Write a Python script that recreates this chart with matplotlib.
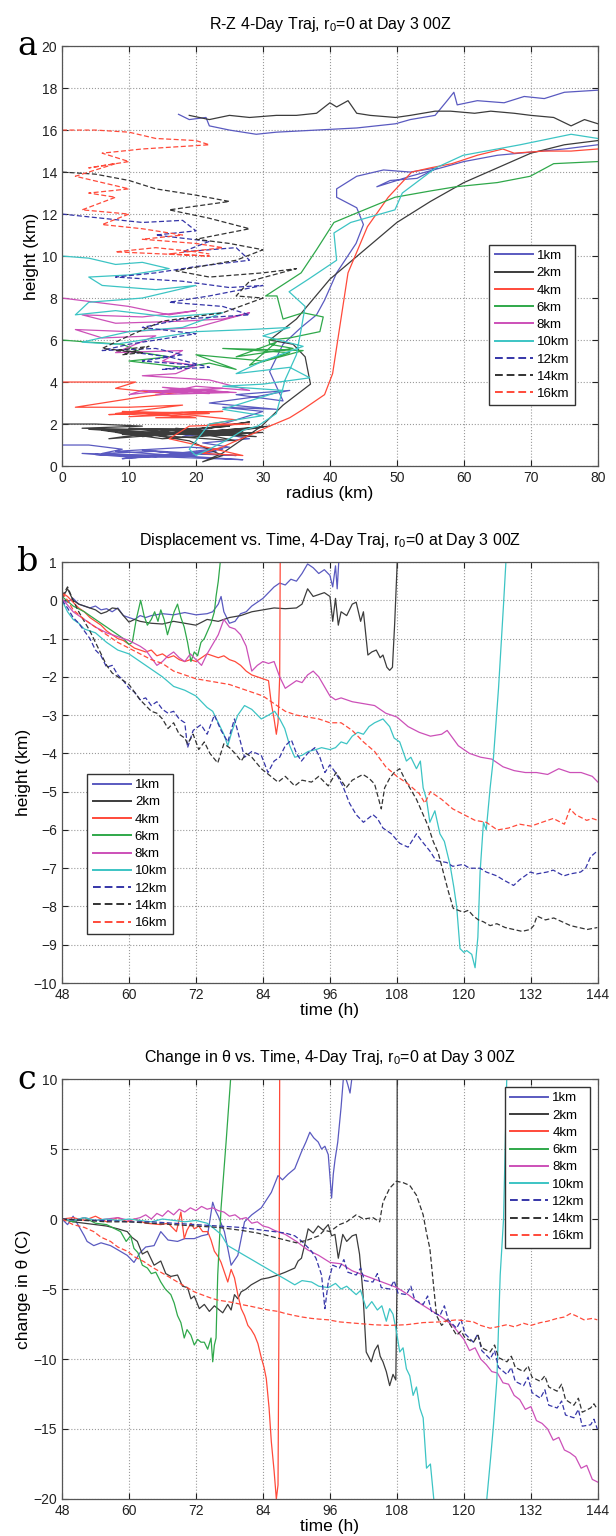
import matplotlib
matplotlib.use("Agg")
import matplotlib.pyplot as plt

plt.rcParams['font.family'] = ['Liberation Sans', 'DejaVu Sans']
plt.rcParams['mathtext.fontset'] = 'custom'
plt.rcParams['mathtext.rm'] = 'Liberation Sans'

labels = ["1km", "2km", "4km", "6km", "8km", "10km", "12km", "14km", "16km"]
colors = ["#5a5ac0", "#3c3c3c", "#ff4a3a", "#2fa84a", "#cc50b8", "#3cc4c4", "#3535a8", "#333333", "#ff4a3a"]
styles = ["-", "-", "-", "-", "-", "-", "--", "--", "--"]

# ---- panel a : radius / height trajectories ----
a_1km_r = [0, 4, 9, 6, 14, 20, 11, 3, 16, 24, 19, 8, 22, 27, 5, 14, 23, 9, 18, 26, 12, 17, 25, 21, 28, 23, 18, 26, 30,
           24, 32, 22, 29, 34, 26, 33,
           31, 33, 35.7, 38, 39.2, 41, 43.9, 45, 44, 41, 41, 44, 48, 52, 56, 53, 49, 47, 52, 60, 65, 70, 75, 80, 88,
           80, 75, 72, 69, 66, 62, 59, 58.5, 57.5, 55.7, 52, 49.8, 44, 38, 32, 29, 25, 22, 21.5, 19, 17.4]
a_1km_z = [1.0, 1.0, 0.8, 0.6, 0.7, 0.5, 0.4, 0.6, 0.5, 0.8, 0.9, 0.7, 0.4, 0.3, 0.55, 0.45, 0.7, 0.35, 0.6, 0.5, 0.75,
           0.6, 0.9, 1.1, 1.3, 1.6, 1.4, 2.2, 2.6,
           2.8, 2.7, 3.0, 3.3, 3.6, 3.4, 3.1, 4.5, 5.8, 6.6, 7.2, 7.9, 9.2, 10.6, 11.5, 12.3, 12.8, 13.2, 13.8, 14.1,
           14.0, 14.2, 13.7, 13.6, 13.3, 13.8, 14.5, 14.8, 14.95, 15.1, 15.3, 16.3, 17.9, 17.8, 17.5, 17.6, 17.3,
           17.4, 17.2, 17.8, 17.4, 16.7, 16.5, 16.3, 16.1, 16.0, 15.9, 15.8, 16.0, 16.2, 16.6, 16.5, 16.75]
a_2km_r = [0, 5, 12, 3, 18, 25, 9, 30, 15, 6, 22, 28, 12, 31, 20, 8, 26, 17, 29, 4, 14, 27, 10, 21, 30, 7, 16, 24, 11,
           19, 24, 21, 23.9, 29.8, 33, 37.1, 36.3, 34.5,
           31, 35, 40, 46.3, 50, 55, 60, 65, 70, 75, 80, 88, 80, 78, 76, 73.4, 70, 67.5, 64, 61.6, 58, 55.7, 52, 49.8,
           46, 44, 42.7, 41, 40, 38, 35, 32, 28, 25, 22, 19]
a_2km_z = [2.0, 2.0, 1.9, 1.8, 1.7, 1.9, 1.5, 1.6, 1.3, 1.7, 1.8, 2.1, 1.4, 1.9, 1.5, 1.6, 1.2, 1.8, 1.4, 1.75, 1.55,
           1.65, 1.8, 1.45, 1.85, 1.3, 1.7, 1.5, 1.6, 1.2, 0.5, 0.2, 0.6,
           1.9, 2.9, 3.9, 5.2, 5.8, 6.0, 7.0, 8.9, 10.6, 11.6, 12.6, 13.5, 14.2, 14.9, 15.3, 15.5, 16.0, 16.3, 16.5,
           16.2, 16.6, 16.7, 16.8, 16.9, 16.8, 16.9, 16.9, 16.7, 16.6, 16.7, 16.8, 17.4, 17.1, 17.3, 16.8, 16.7, 16.7,
           16.6, 16.7, 16.5, 16.7]
a_4km_r = [0, 6, 11, 8, 14, 20, 12, 6, 2, 10, 18, 8, 24, 7, 18, 10, 22, 9, 20, 14, 20, 26, 22, 28, 19, 16, 27, 21,
           23.9, 26, 28.6, 31, 34, 36,
           39.2, 40.4, 42.7, 45.6, 48.7, 52.2, 55, 58.2, 62, 65.8, 67.5, 72, 76, 80]
a_4km_z = [4.0, 4.0, 4.0, 3.7, 3.5, 3.6, 3.3, 3.0, 2.8, 2.8, 2.9, 2.5, 2.6, 2.45, 2.55, 2.35, 2.5, 2.6, 2.3, 2.3, 2.4,
           2.2, 2.0, 2.0, 1.9, 1.3, 0.5, 0.6,
           0.9, 1.2, 1.55, 1.9, 2.3, 2.7, 3.4, 4.4, 9.2, 11.4, 12.8, 14.0, 14.2, 14.4, 14.8, 15.1, 14.9, 15.0, 15.0, 15.1]
a_6km_r = [0, 4, 9, 12, 16, 10, 18, 22, 26, 20, 30, 34, 24, 36, 28, 32, 26, 34.5, 31, 30.9, 34, 38.5, 39, 36, 33, 32.1,
           30.4, 33.3, 35.7, 38, 40.6, 43.6, 49.7, 55, 58.8, 65, 69.9, 73.4, 80]
a_6km_z = [6.0, 5.9, 5.8, 5.4, 5.2, 5.0, 4.7, 4.9, 4.6, 5.3, 5.0, 5.4, 5.6, 5.5, 4.8, 5.9, 5.2, 5.6, 5.8, 6.0, 6.1, 6.4,
           7.1, 7.3, 7.0, 8.1, 8.1, 8.7, 9.2, 10.3, 11.6, 12.0, 12.8, 13.1, 13.3, 13.5, 13.8, 14.4, 14.5]
a_8km_r = [0, 5, 10, 16, 20, 12, 3, 8, 18, 24, 28, 20, 10, 2, 6, 14, 8, 18, 15, 20, 17, 12, 22, 28, 20, 14, 25, 18, 10,
           12, 26, 15, 22, 13, 24, 17]
a_8km_z = [8.0, 7.8, 7.6, 7.2, 7.4, 7.1, 7.2, 6.8, 6.9, 7.0, 7.3, 6.6, 6.4, 6.5, 6.1, 6.2, 5.4, 5.5, 5.0, 4.8, 4.4, 4.3,
           4.1, 3.6, 3.8, 3.4, 3.5, 3.7, 3.4, 3.6, 3.5, 3.75, 3.45, 3.55, 3.7, 3.5]
a_10km_r = [0, 4, 8, 12, 16, 10, 4, 6, 14, 20, 12, 4, 2, 8, 16, 24, 18, 10, 3, 8, 20, 28, 34, 30, 36, 30, 26, 34, 37, 30,
            24, 33, 24, 30, 22, 19, 20, 22, 25, 27, 29.2, 32, 33.3, 35, 35.7, 36.3, 33.9, 36.8, 41, 40.6, 43.1, 49.7,
            50.8, 55.8, 59.9, 68.4, 76, 80]
a_10km_z = [10.0, 9.9, 9.6, 9.7, 9.4, 9.1, 9.0, 8.6, 8.4, 8.6, 8.0, 7.8, 7.2, 7.4, 7.1, 7.3, 6.6, 6.4, 5.9, 5.8, 6.4,
            6.5, 6.6, 6.2, 5.7, 5.0, 4.4, 4.7, 4.2, 3.9, 3.8, 3.6, 2.7, 2.4, 2.0, 0.8, 0.5, 0.8, 1.3, 1.7, 1.9, 2.5,
            4.1, 5.3, 6.5, 7.6, 8.3, 8.9, 9.8, 11.1, 11.6, 12.2, 13.0, 14.2, 14.8, 15.3, 15.8, 15.6]
a_12km_r = [0, 6, 12, 18, 20, 14, 22, 18, 26, 28, 20, 14, 8, 18, 25, 30, 22, 16, 24, 28, 18, 12, 20, 10, 6, 14, 18, 12,
            20, 15, 22, 16, 11]
a_12km_z = [12.0, 11.8, 11.6, 11.7, 11.2, 11.0, 10.7, 10.2, 10.4, 9.8, 9.5, 9.2, 9.0, 8.8, 8.5, 8.6, 8.1, 7.8, 7.6, 7.2,
            7.0, 6.6, 6.3, 5.8, 5.5, 5.6, 5.3, 5.0, 4.8, 4.6, 4.7, 5.2, 5.4]
a_14km_r = [0, 5, 10, 14, 20, 25, 16, 22, 28, 20, 25, 30, 26, 17, 22, 30, 35, 28, 26, 30, 24, 15, 10, 6, 12, 8, 13, 9,
            12]
a_14km_z = [14.0, 13.9, 13.6, 13.2, 12.9, 12.6, 12.2, 11.8, 11.3, 10.8, 10.6, 10.3, 9.8, 9.3, 9.0, 9.2, 9.4, 8.8, 8.1,
            8.0, 7.3, 6.9, 6.2, 5.6, 5.4, 5.5, 5.7, 5.3, 5.4]
a_16km_r = [0, 5, 10, 14, 20, 22, 12, 6, 10, 4, 8, 2, 6, 10, 4, 8, 3, 10, 6, 12, 18, 12, 20, 24, 16, 22, 8, 14, 20, 22]
a_16km_z = [16.0, 16.0, 15.9, 15.6, 15.5, 15.3, 15.1, 14.9, 14.5, 14.2, 14.4, 13.8, 13.5, 13.2, 13.0, 12.8, 12.2, 12.0,
            11.5, 11.3, 11.0, 10.8, 10.6, 10.4, 10.1, 10.0, 10.2, 10.4, 10.2, 10.1]

# ---- panel b : height displacement vs time ----
b_1km_t = [48, 49, 50, 51, 52, 53, 54, 55, 56, 57, 58, 59, 60, 61, 62, 63, 64, 66, 68, 70, 72, 74, 75, 76, 76.5, 77, 78,
           79, 80, 81, 82, 83, 84, 85, 86, 87, 88, 89, 90, 91, 92, 93, 94, 95, 96, 96.5, 97, 97.3, 97.7]
b_1km_d = [0.0, -0.05, 0.05, -0.1, -0.15, -0.2, -0.15, -0.25, -0.22, -0.3, -0.2, -0.4, -0.45, -0.5, -0.4, -0.45, -0.4,
           -0.35, -0.38, -0.32, -0.38, -0.35, -0.3, -0.1, 0.1, -0.3, -0.6, -0.55, -0.35, -0.3, -0.15, -0.05, 0.05, 0.2,
           0.35, 0.45, 0.4, 0.55, 0.5, 0.7, 0.95, 0.85, 0.7, 0.8, 0.65, 0.35, 0.9, 0.3, 1.3]
b_2km_t = [48, 49, 50, 51, 52, 53, 54, 55, 56, 57, 58, 59, 60, 61, 62, 64, 66, 68, 70, 72, 74, 76, 78, 80, 82, 84, 86,
           88, 90, 91, 92, 93, 94, 95, 96, 96.5, 97, 97.5, 98, 99, 100, 100.7, 101.5, 102, 102.8, 103.5, 104.3, 105,
           105.5, 106.2, 106.7, 107.2, 107.6, 108, 108.1]
b_2km_d = [0.05, 0.3, 0.0, -0.1, -0.15, -0.2, -0.25, -0.35, -0.3, -0.2, -0.22, -0.4, -0.57, -0.5, -0.55, -0.6, -0.62,
           -0.55, -0.6, -0.65, -0.5, -0.55, -0.45, -0.4, -0.3, -0.25, -0.2, -0.22, -0.2, -0.1, 0.3, 0.1, 0.15, 0.2,
           0.1, -0.55, 0.05, -0.65, -0.3, -0.4, -0.1, -0.05, -0.55, -0.3, -1.43, -1.35, -1.3, -1.5, -1.43, -1.75,
           -1.83, -1.75, -0.6, 0.8, 1.2]
b_4km_t = [48, 49, 50, 51, 52, 53, 54, 55, 56, 57, 58, 59, 60, 61, 62, 63, 64, 65, 66, 67, 68, 69, 70, 71, 72, 73, 74,
           75, 76, 77, 78, 79, 80, 81, 82, 83, 84, 85, 85.5, 86, 86.4, 86.7, 87, 87.1]
b_4km_d = [0.2, 0.1, -0.05, -0.2, -0.3, -0.45, -0.55, -0.65, -0.8, -0.9, -1.0, -1.05, -1.15, -1.25, -1.3, -1.35, -1.3,
           -1.45, -1.4, -1.5, -1.45, -1.55, -1.6, -1.55, -1.6, -1.5, -1.4, -1.45, -1.5, -1.45, -1.55, -1.6, -1.7,
           -1.85, -1.95, -2.0, -2.05, -2.1, -2.7, -3.1, -3.5, -3.2, -2.0, 1.2]
b_6km_t = [48, 50, 52, 54, 56, 58, 59, 60, 60.6, 61.3, 62.1, 62.7, 63.3, 64, 64.6, 65.2, 65.7, 66.3, 66.9, 67.5, 68.1,
           68.7, 69.3, 69.9, 70.5, 71.1, 71.7, 72.3, 72.9, 73.5, 74.1, 74.7, 75.3, 75.6, 76, 76.5]
b_6km_d = [0.1, -0.15, -0.3, -0.5, -0.7, -0.9, -1.0, -1.15, -1.1, -0.5, 0.0, -0.4, -0.65, -0.5, -0.3, -0.55, -0.25,
           -0.5, -0.9, -0.6, -0.3, -0.1, -0.45, -0.7, -1.1, -1.6, -1.35, -1.45, -1.1, -1.0, -0.8, -0.6, -0.3, 0.1, 0.5,
           1.2]
b_8km_t = [48, 50, 52, 54, 56, 58, 60, 62, 63, 64, 65, 66, 67, 68, 69, 70, 71, 72, 73, 74, 75, 76, 77, 78, 79, 80, 81,
           82, 83, 84, 85, 86, 87, 88, 89, 90, 91, 92, 93, 94, 95, 96, 97, 98, 100, 102, 104, 106, 108, 110, 112, 114,
           116, 117, 119, 121, 123, 125, 127, 129, 131, 133, 135, 137, 139, 141, 143, 144]
b_8km_d = [0.05, -0.3, -0.5, -0.7, -0.85, -0.95, -1.05, -1.2, -1.3, -1.5, -1.7, -1.6, -1.45, -1.35, -1.5, -1.6, -1.4,
           -1.55, -1.7, -1.4, -1.15, -0.9, -0.5, -0.7, -0.75, -0.9, -1.2, -1.85, -1.7, -1.6, -1.65, -1.6, -2.0, -2.3,
           -2.2, -2.1, -2.15, -1.95, -1.85, -2.0, -2.25, -2.5, -2.6, -2.55, -2.65, -2.7, -2.75, -2.95, -3.05, -3.3,
           -3.45, -3.55, -3.5, -3.4, -3.8, -4.0, -4.1, -4.15, -4.35, -4.45, -4.5, -4.5, -4.55, -4.4, -4.5, -4.5, -4.6,
           -4.75]
b_10km_t = [48, 49, 50, 51, 52, 54, 56, 58, 60, 62, 64, 66, 68, 70, 72, 74, 75, 76, 77, 77.7, 78.5, 79.5, 80.7, 82,
            83.7, 85, 86.1, 87, 87.9, 88.8, 89.7, 91, 92.1, 93.5, 94.5, 96, 97, 98, 99, 100, 101, 102, 103, 104, 105.5,
            106.7, 107.5, 108.5, 109.7, 110.5, 111.5, 112.2, 112.7, 113.3, 113.9, 114.8, 115.7, 116.5, 117.5, 118.2,
            118.7, 119.3, 120, 120.5, 121.4, 122, 122.5, 122.9, 123.5, 124, 124.7, 125.3, 126.2, 127.1, 127.6]
b_10km_d = [0.0, -0.3, -0.5, -0.6, -0.75, -0.85, -1.1, -1.3, -1.4, -1.6, -1.8, -2.0, -2.25, -2.35, -2.5, -2.8, -2.9,
            -3.2, -3.5, -3.8, -3.4, -3.0, -2.75, -2.85, -3.1, -3.0, -2.9, -3.1, -3.35, -3.8, -4.1, -4.05, -3.95, -3.9,
            -3.85, -3.9, -3.85, -3.7, -3.75, -3.55, -3.45, -3.5, -3.3, -3.2, -3.1, -3.3, -3.6, -3.7, -4.2, -4.1, -4.4,
            -4.2, -4.9, -5.2, -5.8, -5.5, -6.1, -6.3, -6.9, -7.5, -8.0, -9.1, -9.2, -9.15, -9.25, -9.6, -8.8, -7.1,
            -5.8, -6.0, -4.9, -4.1, -2.3, -0.1, 1.2]
b_12km_t = [48, 49, 50, 51, 52, 53, 54, 55, 56, 57, 58, 59, 60, 61, 62, 63, 64, 65, 66, 67, 68, 69, 70, 70.5, 71.5,
            72.9, 74, 75.3, 76.5, 77.7, 78.9, 79.8, 80.7, 82, 83.7, 84.9, 86, 87, 88, 89.1, 90, 90.9, 92, 93.3, 94.2,
            95.1, 96, 97, 98.3, 99.5, 100.7, 102, 103.7, 104.5, 105.5, 107, 108.5, 110, 111.5, 112.5, 113.9, 115,
            116.9, 118, 119.9, 121, 122.9, 124, 125.9, 127, 128.9, 130, 131.9, 133, 134.9, 136, 137.9, 139, 140.9,
            141.8, 142.7, 143.9]
b_12km_d = [0.0, -0.2, -0.45, -0.6, -0.8, -1.0, -1.3, -1.45, -1.75, -1.7, -1.95, -2.1, -2.3, -2.4, -2.6, -2.55, -2.75,
            -2.65, -2.85, -2.95, -2.9, -3.1, -3.2, -3.85, -3.4, -3.25, -3.5, -3.0, -3.4, -3.7, -3.1, -3.6, -4.1, -3.95,
            -4.05, -4.5, -4.2, -4.1, -3.8, -3.65, -4.0, -4.2, -4.0, -3.85, -4.1, -4.5, -4.3, -4.5, -4.85, -5.3, -5.6,
            -5.8, -5.6, -5.7, -5.95, -6.1, -6.35, -6.45, -6.1, -6.3, -6.55, -6.8, -6.85, -6.95, -6.9, -7.0, -7.0, -7.1,
            -7.2, -7.3, -7.45, -7.3, -7.1, -7.15, -7.1, -7.05, -7.2, -7.15, -7.1, -7.0, -6.7, -6.55]
b_14km_t = [48, 49, 50, 51, 52, 53, 54, 55, 56, 57, 58, 59, 60, 61, 62, 63, 64, 65, 66, 67, 68, 69, 70, 70.5, 71.5,
            72.5, 73.5, 74.5, 75.9, 77, 78, 79, 80.1, 81, 82, 83.7, 85, 86.7, 88, 89.7, 91, 92.7, 94, 95.7, 97.1,
            98.9, 100, 101.9, 103, 104, 105.2, 105.8, 106.7, 107.5, 108.5, 109.5, 110.3, 111.5, 112.7, 113.6, 114.5,
            115.4, 116.3, 117.2, 118.1, 119.9, 120.8, 121.7, 122.6, 123.5, 124.7, 125.9, 127.4, 128.9, 130.4, 131.9,
            132.5, 133.1, 134.6, 136.1, 137.6, 139.1, 140.6, 142.1, 143.9]
b_14km_d = [0.1, 0.35, 0.0, -0.3, -0.55, -0.8, -1.1, -1.4, -1.7, -1.9, -2.0, -2.1, -2.2, -2.4, -2.6, -2.75, -2.9,
            -2.95, -3.1, -3.35, -3.2, -3.5, -3.6, -3.75, -3.5, -3.9, -3.7, -4.0, -4.25, -3.75, -3.85, -4.0, -4.2, -4.0,
            -4.1, -4.4, -4.55, -4.75, -4.6, -4.85, -4.7, -4.75, -4.6, -4.85, -4.5, -4.9, -4.7, -4.55, -4.65, -4.8,
            -5.45, -4.9, -4.65, -4.5, -4.4, -4.7, -4.9, -5.2, -5.6, -5.9, -6.3, -6.6, -7.1, -7.6, -8.05, -8.15, -8.1,
            -8.25, -8.35, -8.4, -8.5, -8.45, -8.55, -8.6, -8.65, -8.6, -8.5, -8.25, -8.35, -8.3, -8.4, -8.5, -8.55,
            -8.6, -8.55]
b_16km_t = [48, 49, 50, 52, 54, 56, 58, 60, 62, 64, 66, 68, 70, 72, 74, 76, 78, 80, 82, 84, 86, 88, 90, 92, 94, 96, 98,
            100, 102, 104, 106, 108, 110, 112, 113, 114, 115, 116, 118, 120, 122, 124, 126, 128, 130, 132, 134, 136,
            138, 139, 140, 142, 143, 144]
b_16km_d = [0.2, 0.0, -0.25, -0.5, -0.7, -0.9, -1.1, -1.25, -1.4, -1.55, -1.65, -1.85, -1.95, -2.05, -2.1, -2.15, -2.2,
            -2.3, -2.4, -2.5, -2.7, -2.9, -3.0, -3.05, -3.1, -3.2, -3.2, -3.4, -3.7, -3.95, -4.35, -4.6, -4.8, -5.05,
            -5.3, -5.0, -5.1, -5.2, -5.45, -5.6, -5.75, -5.8, -6.0, -5.95, -5.85, -5.9, -5.8, -5.7, -5.85, -5.45, -5.6,
            -5.75, -5.7, -5.75]

# ---- panel c : change in theta vs time ----
c_1km_t = [48, 49, 50, 51, 52, 52.5, 53.7, 55, 56.7, 58, 59.7, 60.9, 62, 63, 64.5, 65.7, 67, 68.7, 70, 71.7, 73, 74.1,
           75, 75.5, 76, 77.1, 78.3, 79.5, 80.7, 82, 83.7, 85.5, 86.7, 87.5, 88.5, 89.7, 90.9, 91.7, 92.4, 93.1, 93.9,
           94.5, 95.1, 95.7, 96.3, 96.6, 96.9, 97.4, 98.0, 98.5, 99.2, 99.6, 100.1]
c_1km_v = [0.0, -0.4, 0.2, -0.5, -1.2, -1.6, -1.9, -1.7, -1.9, -2.2, -2.6, -3.1, -2.4, -2.0, -1.9, -0.9, -1.5, -1.6,
           -1.4, -1.4, -1.2, -1.1, 1.2, 0.6, 0.2, -0.9, -3.3, -2.6, -0.2, 0.3, 0.8, 1.9, 3.1, 2.8, 3.2, 3.6, 4.8, 5.5,
           6.2, 5.8, 5.5, 5.0, 5.2, 4.6, 1.5, 3.2, 4.2, 5.5, 8.0, 10.5, 9.6, 9.0, 10.6]
c_2km_t = [48, 50, 52, 54, 56, 58, 59.7, 60.5, 61.5, 62.4, 63.3, 64.5, 65.7, 66.6, 67.5, 68.7, 69.6, 70.5, 71.1, 71.7,
           72.6, 73.5, 74.4, 75.3, 75.9, 76.8, 77.7, 78.3, 78.9, 79.5, 80.1, 81, 81.9, 82.8, 83.7, 85, 86.7, 88, 89.7,
           90.3, 90.9, 91.5, 92.1, 93, 93.9, 94.8, 95.7, 96.3, 96.9, 97.5, 98.3, 99, 100, 100.7, 101.3, 101.9, 102.5,
           103.4, 104, 104.6, 105, 105.5, 106.1, 106.7, 107.3, 107.8, 108.0, 108.05]
c_2km_v = [0.0, -0.2, -0.3, -0.4, -0.5, -0.7, -0.9, -1.3, -1.6, -2.5, -2.3, -3.3, -3.0, -3.9, -4.1, -4.0, -4.8, -4.9,
           -5.7, -5.5, -6.4, -6.1, -6.6, -6.2, -6.4, -6.7, -6.1, -6.5, -5.4, -5.7, -5.2, -5.0, -4.7, -4.5, -4.3, -4.2,
           -4.0, -3.8, -3.5, -3.0, -2.8, -1.8, -0.7, -1.0, -0.5, -0.8, -0.4, -1.2, -1.1, -2.8, -1.1, -1.6, -1.2, -1.1,
           -2.5, -5.2, -9.5, -10.2, -9.4, -9.0, -9.8, -10.2, -10.9, -11.9, -11.1, -11.5, -5.0, 10.5]
c_4km_t = [48, 50, 52, 54, 56, 58, 59.7, 61, 63, 65.7, 67, 68.5, 69.3, 69.9, 70.4, 71.1, 71.7, 72.5, 73.2, 74.1, 74.7,
           75.3, 76, 76.5, 77.1, 77.7, 78.3, 78.9, 79.5, 80.1, 80.7, 81.3, 81.9, 82.5, 83.1, 83.7, 84.2, 84.6, 85.1,
           85.5, 86.0, 86.4, 86.7, 86.9, 87.0]
c_4km_v = [0.0, 0.1, -0.1, 0.2, -0.2, 0.1, -0.2, 0.0, -0.3, -0.4, -0.3, -0.9, 0.5, -1.4, -0.8, -0.3, -0.7, -0.5, -0.9,
           -0.9, -1.5, -2.3, -2.7, -3.1, -3.8, -4.5, -3.6, -4.2, -5.4, -6.4, -6.9, -7.6, -7.9, -8.3, -8.9, -9.9, -10.6,
           -11.4, -13.5, -15.9, -18.0, -20.0, -19.0, -5.0, 10.5]
c_6km_t = [48, 50, 52, 54, 56, 57, 58.5, 59.5, 60.3, 60.9, 61.6, 62.4, 63.3, 64, 64.8, 65.7, 66.5, 67.5, 68.1, 68.7,
           69.3, 69.9, 70.4, 71.1, 71.7, 72.3, 72.9, 73.5, 74.1, 74.7, 75.0, 75.3, 75.6, 75.9, 76.5, 77.4, 78.3]
c_6km_v = [0.0, -0.2, 0.1, -0.3, -0.4, -0.6, -0.9, -1.6, -1.2, -2.1, -2.4, -3.3, -3.5, -3.9, -3.8, -4.5, -5.0, -5.4,
           -6.0, -6.9, -7.4, -8.5, -7.9, -8.3, -9.0, -8.6, -8.8, -8.8, -9.3, -8.5, -10.2, -9.0, -8.5, -4.0, 0.8, 5.5,
           10.5]
c_8km_t = [48, 50, 52, 54, 56, 58, 60, 62, 63, 64, 65, 66, 67, 68, 69, 70, 71, 72, 73, 74, 75, 76, 77, 78, 79, 80, 81,
           82, 83, 84, 85, 86, 88, 90, 92, 94, 96, 98, 100, 102, 104, 106, 108, 110, 112, 114, 116, 118, 120, 121,
           122, 123, 124, 125, 126, 127, 128, 129, 130, 131, 132, 133, 134, 135, 136, 137, 138, 139, 140, 141, 142,
           143, 144]
c_8km_v = [0.0, -0.1, 0.1, -0.1, 0.0, 0.1, -0.1, 0.1, 0.3, 0.0, 0.4, 0.2, 0.6, 0.3, 0.7, 0.5, 0.8, 0.6, 0.9, 0.7, 0.8,
           0.6, 0.5, 0.2, 0.3, 0.0, 0.1, -0.3, -0.2, -0.5, -0.6, -0.8, -1.1, -1.6, -2.2, -2.6, -3.1, -3.2, -3.7, -4.0,
           -4.3, -4.6, -4.9, -5.4, -6.0, -6.5, -7.0, -7.6, -8.6, -9.4, -9.2, -10.0, -10.4, -10.9, -11.0, -11.7, -11.8,
           -12.6, -12.9, -13.6, -13.4, -14.4, -14.6, -15.0, -15.8, -15.6, -16.5, -16.7, -17.0, -17.8, -17.6, -18.6,
           -18.8]
c_10km_t = [48, 50, 52, 54, 56, 58, 60, 62, 64, 66, 68, 70, 72, 74, 75.3, 76.5, 77.7, 79, 80.7, 82, 83.7, 85, 86.7, 88,
            89.7, 91, 92.7, 94, 95.7, 97, 98, 99, 100.7, 101.5, 102.5, 103.5, 104.5, 105.3, 106.1, 106.7, 107.3, 107.9,
            108.5, 109.1, 109.7, 110.3, 110.9, 111.5, 112.1, 112.7, 113.3, 114.0, 114.6, 116, 120, 124.1, 124.8,
            125.3, 125.9, 126.5, 127.1, 127.7]
c_10km_v = [0.0, -0.1, 0.1, -0.1, 0.0, -0.1, 0.0, -0.1, -0.2, 0.0, -0.1, -0.2, -0.1, -0.3, -0.7, -1.1, -1.9, -2.2,
            -2.6, -2.9, -3.3, -3.6, -4.0, -4.3, -4.7, -4.4, -4.5, -4.8, -4.9, -4.6, -5.0, -4.8, -5.4, -5.1, -6.4, -5.9,
            -6.5, -6.2, -7.3, -6.4, -6.8, -8.0, -9.5, -9.2, -10.7, -11.2, -12.6, -12.0, -13.5, -14.2, -17.8, -17.5,
            -20.0, -30, -30, -20.0, -17.0, -14.7, -11.5, -4.0, 0.0, 10.5]
c_12km_t = [48, 52, 56, 60, 64, 68, 72, 76, 80, 84, 86, 88, 89.7, 91, 92.7, 93.5, 94.5, 95.1, 95.7, 96.5, 97.7, 98.5,
            99.2, 100.7, 101.5, 102.2, 103.7, 104.5, 105.2, 106.7, 107.5, 108.2, 109.7, 110.5, 111.2, 112.7, 113.5,
            114.2, 115.7, 116.5, 117.2, 118.7, 119.5, 120.2, 121.7, 122.5, 123.2, 124.7, 125.5, 126.2, 127.7, 128.5,
            129.2, 130.7, 131.5, 132.2, 133.7, 134.5, 135.2, 136.7, 137.5, 138.2, 139.7, 140.5, 141.2, 142.7, 143.3,
            143.9]
c_12km_v = [0.0, -0.1, -0.1, -0.2, -0.2, -0.3, -0.4, -0.5, -0.6, -0.8, -0.9, -1.0, -1.2, -1.6, -2.3, -2.8, -4.0, -6.4,
            -4.5, -3.3, -3.5, -2.9, -3.8, -4.0, -3.5, -4.4, -4.5, -3.9, -4.9, -5.0, -4.4, -5.3, -5.4, -4.8, -5.8, -6.1,
            -5.5, -6.6, -6.9, -6.2, -7.2, -7.8, -7.2, -8.2, -8.8, -8.2, -9.4, -10.0, -9.4, -10.6, -11.1, -10.6, -11.6,
            -11.9, -11.3, -12.4, -12.8, -12.2, -13.3, -13.5, -13.0, -14.0, -14.2, -13.6, -14.8, -14.7, -14.3, -15.0]
c_14km_t = [48, 52, 56, 60, 64, 68, 72, 76, 80, 83, 86, 88, 90, 92, 94, 95, 96, 97.7, 99, 100.7, 102, 103.7, 104.9,
            105.5, 106.7, 107.9, 109.1, 110.3, 111.5, 112.7, 113.3, 113.9, 114.5, 115.1, 116, 117, 118.7, 119.5, 120.2,
            121.7, 122.5, 123.2, 124.7, 125.5, 126.2, 127.7, 128.5, 129.2, 130.7, 131.5, 132.2, 133.7, 134.5, 135.2,
            136.7, 137.5, 138.2, 139.7, 140.5, 141.2, 142.7, 143.3, 143.9]
c_14km_v = [0.0, -0.1, -0.2, -0.2, -0.3, -0.4, -0.5, -0.6, -0.8, -1.0, -1.3, -1.5, -1.7, -1.5, -1.2, -0.8, -0.9, -0.4,
            -0.2, 0.3, 0.0, 0.1, -0.2, 1.2, 2.2, 2.7, 2.6, 2.4, 1.7, 0.3, -1.0, -2.1, -4.5, -6.9, -7.6, -7.2, -8.3,
            -8.0, -8.5, -8.8, -8.3, -9.2, -9.5, -9.0, -9.9, -10.2, -9.8, -10.6, -10.9, -10.5, -11.3, -11.6, -11.2,
            -12.0, -12.3, -11.8, -12.9, -13.3, -12.8, -13.8, -13.5, -13.2, -13.6]
c_16km_t = [48, 50, 52, 53.7, 55, 56.7, 58, 59.7, 61, 62.7, 64, 65.7, 67, 68.7, 70, 71.7, 73, 74.7, 76, 77.7, 79, 80.7,
            82, 83.7, 85, 86.7, 88, 89.7, 91, 92.7, 94, 95.7, 97.7, 100.7, 103.7, 106.7, 109.7, 112.7, 115.7, 118.7,
            121.7, 123, 124.7, 126, 127.7, 129, 130.7, 132, 133.7, 135, 136.7, 138, 139.1, 140, 141.5, 143, 143.9]
c_16km_v = [0.0, -0.4, -0.6, -0.9, -1.3, -1.6, -2.0, -2.3, -2.7, -3.05, -3.4, -3.8, -4.1, -4.5, -4.8, -5.2, -5.4,
            -5.65, -5.8, -5.9, -6.0, -6.15, -6.25, -6.4, -6.5, -6.6, -6.75, -6.9, -7.0, -7.1, -7.15, -7.2, -7.35,
            -7.45, -7.55, -7.6, -7.55, -7.4, -7.35, -7.2, -7.35, -7.6, -7.8, -7.7, -7.55, -7.7, -7.45, -7.6, -7.4,
            -7.3, -7.1, -7.0, -6.75, -6.9, -7.2, -7.1, -7.2]

panel_a = [(a_1km_r, a_1km_z), (a_2km_r, a_2km_z), (a_4km_r, a_4km_z), (a_6km_r, a_6km_z), (a_8km_r, a_8km_z),
           (a_10km_r, a_10km_z), (a_12km_r, a_12km_z), (a_14km_r, a_14km_z), (a_16km_r, a_16km_z)]
panel_b = [(b_1km_t, b_1km_d), (b_2km_t, b_2km_d), (b_4km_t, b_4km_d), (b_6km_t, b_6km_d), (b_8km_t, b_8km_d),
           (b_10km_t, b_10km_d), (b_12km_t, b_12km_d), (b_14km_t, b_14km_d), (b_16km_t, b_16km_d)]
panel_c = [(c_1km_t, c_1km_v), (c_2km_t, c_2km_v), (c_4km_t, c_4km_v), (c_6km_t, c_6km_v), (c_8km_t, c_8km_v),
           (c_10km_t, c_10km_v), (c_12km_t, c_12km_v), (c_14km_t, c_14km_v), (c_16km_t, c_16km_v)]

fig = plt.figure(figsize=(6.16, 15.36), dpi=100)
ax_a = fig.add_axes([0.1006, 0.6966, 0.870, 0.2734])
ax_b = fig.add_axes([0.1006, 0.3600, 0.870, 0.2741])
ax_c = fig.add_axes([0.1006, 0.0241, 0.870, 0.2734])


def style_axes(ax):
    ax.grid(True, linestyle=':', color='#9a9a9a', linewidth=0.8)
    ax.tick_params(direction='in', top=True, right=True, labelsize=10, length=4, colors='#222222')
    for sp in ax.spines.values():
        sp.set_color('#555555')
        sp.set_linewidth(0.9)


def draw(ax, series):
    for (x, y), lab, col, ls in zip(series, labels, colors, styles):
        ax.plot(x, y, color=col, linestyle=ls, linewidth=0.9, label=lab,
                dashes=(4, 2) if ls == '--' else (None, None))


def add_legend(ax, **kw):
    leg = ax.legend(fontsize=9.5, handlelength=2.9, labelspacing=0.38, borderpad=0.4, handletextpad=0.3,
                    fancybox=False, edgecolor='#333333', framealpha=1, **kw)
    for ln in leg.get_lines():
        ln.set_linewidth(1.4)
    return leg


# panel a
draw(ax_a, panel_a)
ax_a.set_xlim(0, 80)
ax_a.set_ylim(0, 20)
ax_a.set_xticks(range(0, 81, 10))
ax_a.set_yticks(range(0, 21, 2))
style_axes(ax_a)
ax_a.set_xlabel("radius (km)", fontsize=12.5, labelpad=1)
ax_a.set_ylabel("height (km)", fontsize=12.5, labelpad=2)
ax_a.set_title(r"R-Z 4-Day Traj, r$_{0}$=0 at Day 3 00Z", fontsize=11.5, pad=12)
add_legend(ax_a, loc='upper left', bbox_to_anchor=(0.785, 0.543))

# panel b
draw(ax_b, panel_b)
ax_b.set_xlim(48, 144)
ax_b.set_ylim(-10, 1)
ax_b.set_xticks(range(48, 145, 12))
ax_b.set_yticks(range(-10, 2, 1))
style_axes(ax_b)
ax_b.set_xlabel("time (h)", fontsize=12.5, labelpad=1)
ax_b.set_ylabel("height (km)", fontsize=12.5, labelpad=2)
ax_b.set_title(r"Displacement vs. Time, 4-Day Traj, r$_{0}$=0 at Day 3 00Z", fontsize=11.5, pad=12)
add_legend(ax_b, loc='upper left', bbox_to_anchor=(0.035, 0.513))

# panel c
draw(ax_c, panel_c)
ax_c.set_xlim(48, 144)
ax_c.set_ylim(-20, 10)
ax_c.set_xticks(range(48, 145, 12))
ax_c.set_yticks(range(-20, 11, 5))
style_axes(ax_c)
ax_c.set_xlabel("time (h)", fontsize=12.5, labelpad=1)
ax_c.set_ylabel("change in θ (C)", fontsize=12.5, labelpad=2)
ax_c.set_title(r"Change in θ vs. Time, 4-Day Traj, r$_{0}$=0 at Day 3 00Z", fontsize=11.5, pad=12)
add_legend(ax_c, loc='upper right', bbox_to_anchor=(0.998, 0.997))

for lett, ypos in zip(["a", "b", "c"], [0.970, 0.634, 0.297]):
    fig.text(0.028, ypos, lett, fontsize=24, family='DejaVu Serif', va='center', ha='left')

fig.savefig("out.png", dpi=100)
